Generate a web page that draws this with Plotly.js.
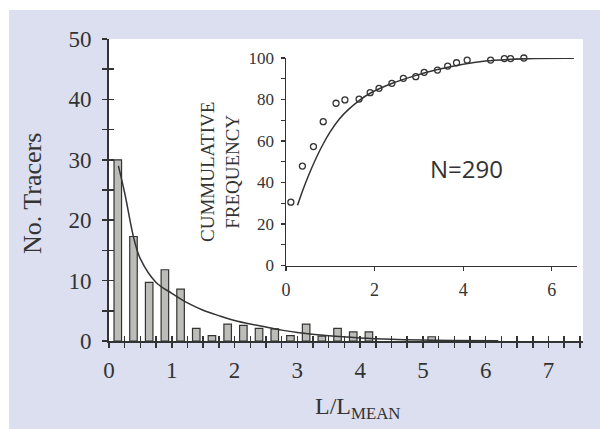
<!DOCTYPE html>
<html>
<head>
<meta charset="utf-8">
<script src="https://cdn.plot.ly/plotly-3.0.1.min.js"></script>
<style>
  html, body { margin: 0; padding: 0; background: #ffffff; }
  #chart { width: 600px; height: 429px; }
</style>
</head>
<body>
<div id="chart"></div>
<script>
// ---- Main histogram (No. Tracers vs L/Lmean) ----
const barX = [0.14, 0.39, 0.64, 0.89, 1.14, 1.39, 1.64, 1.89, 2.14, 2.39, 2.64, 2.89, 3.14, 3.39, 3.64, 3.89, 4.14, 5.14];
const barY = [30, 17.3, 9.7, 11.8, 8.6, 2.1, 0.9, 2.8, 2.6, 2.1, 2.0, 0.9, 2.8, 0.8, 2.1, 1.5, 1.5, 0.7];

// fitted decay curve over histogram
const fitX = [0.15, 0.25, 0.4, 0.5, 0.75, 1.0, 1.25, 1.5, 1.75, 2.0, 2.25, 2.5, 2.75, 3.0, 3.5, 4.0, 4.5, 5.0, 5.5, 6.2];
const fitY = [29, 24.5, 16.8, 13.6, 9.7, 7.9, 6.3, 5.1, 4.2, 3.4, 2.8, 2.3, 1.8, 1.4, 0.85, 0.5, 0.28, 0.15, 0.08, 0.03];

// ---- Inset: cumulative frequency ----
const cumX = [0.11, 0.37, 0.62, 0.84, 1.13, 1.33, 1.65, 1.90, 2.10, 2.39, 2.65, 2.93, 3.12, 3.42, 3.65, 3.85, 4.09, 4.62, 4.93, 5.07, 5.37];
const cumY = [30.5, 47.9, 57.3, 69.3, 78.2, 79.8, 80.2, 83.3, 85.4, 87.8, 90.2, 91.0, 93.1, 94.2, 96.1, 97.7, 99.0, 99.0, 99.7, 99.7, 100];

const cumFitX = [0.26, 0.4, 0.58, 0.8, 1.0, 1.2, 1.4, 1.65, 1.9, 2.4, 2.9, 3.4, 4.0, 4.5, 5.0, 5.6, 6.5];
const cumFitY = [29, 37.5, 47, 57, 64.5, 70.5, 75, 79.5, 83, 87.8, 91.4, 94.3, 97, 98.5, 99.3, 99.8, 99.9];

// ---- tick labels ----
const mainXTicks = [0, 1, 2, 3, 4, 5, 6, 7];
const mainYTicks = [0, 10, 20, 30, 40, 50];
const insetXTicks = [0, 2, 4, 6];
const insetYTicks = [0, 20, 40, 60, 80, 100];

// ---- texts ----
const yTitle = 'No. Tracers';
const xTitle = 'L/L<sub>MEAN</sub>';
const insetTitle = 'CUMMULATIVE<br>FREQUENCY';
const nLabel = 'N=290';

const ink = '#333333';
const serif = '"Liberation Serif"';

const traces = [
  {
    type: 'bar', x: barX, y: barY, width: 0.12,
    marker: { color: '#bcbcb9', line: { color: ink, width: 1.2 } },
    xaxis: 'x', yaxis: 'y', hoverinfo: 'skip', showlegend: false
  },
  {
    type: 'scatter', mode: 'lines', x: fitX, y: fitY,
    line: { color: ink, width: 1.5, shape: 'spline' },
    xaxis: 'x', yaxis: 'y', showlegend: false
  },
  // invisible trace so the overlay axes (inner halves of the crossing ticks) are drawn
  {
    type: 'scatter', mode: 'markers', x: [1], y: [60],
    marker: { opacity: 0 },
    xaxis: 'x3', yaxis: 'y3', showlegend: false, hoverinfo: 'skip'
  },
  {
    type: 'scatter', mode: 'lines', x: cumFitX, y: cumFitY,
    line: { color: ink, width: 1.5, shape: 'spline' },
    xaxis: 'x2', yaxis: 'y2', showlegend: false
  },
  {
    type: 'scatter', mode: 'markers', x: cumX, y: cumY,
    marker: { symbol: 'circle-open', size: 6, color: ink, line: { width: 1.3, color: ink } },
    xaxis: 'x2', yaxis: 'y2', showlegend: false, cliponaxis: false
  }
];

const L = 109, R = 17, T = 39, B = 88;
const W = 600, H = 429;
const pw = W - L - R, ph = H - T - B;
const px = v => (v - L) / pw;        // pixel -> paper x
const py = v => (H - B - v) / ph;    // pixel -> paper y

const lavender = '#dcdfef';

const layout = {
  width: W, height: H,
  margin: { l: L, r: R, t: T, b: B, pad: 0 },
  paper_bgcolor: lavender,
  plot_bgcolor: 'rgba(0,0,0,0)',
  showlegend: false,
  font: { family: serif, color: ink },
  bargap: 0,
  xaxis: {
    domain: [0, 1], range: [0, 7.55], anchor: 'y',
    showgrid: false, zeroline: false,
    showline: true, linecolor: ink, linewidth: 2,
    tickmode: 'array', tickvals: mainXTicks, ticktext: mainXTicks.map(String),
    ticks: 'outside', ticklen: 5, tickwidth: 1.5, tickcolor: ink,
    minor: { dtick: 0.25, ticks: 'outside', ticklen: 5, tickwidth: 1.5, tickcolor: ink, showgrid: false },
    tickfont: { family: serif, size: 23, color: ink },
    ticklabelstandoff: 2, fixedrange: true
  },
  yaxis: {
    domain: [0, 1], range: [0, 50], anchor: 'x',
    showgrid: false, zeroline: false,
    showline: true, linecolor: ink, linewidth: 2,
    tickmode: 'array', tickvals: mainYTicks, ticktext: mainYTicks.map(String),
    ticks: 'outside', ticklen: 5, tickwidth: 1.5, tickcolor: ink,
    minor: { dtick: 5, ticks: 'outside', ticklen: 5, tickwidth: 1.5, tickcolor: ink, showgrid: false },
    tickfont: { family: serif, size: 23, color: ink },
    ticklabelstandoff: 6, fixedrange: true
  },
  xaxis3: {
    overlaying: 'x', anchor: 'y3', range: [0, 7.55],
    showgrid: false, zeroline: false, showline: false, showticklabels: false,
    tickmode: 'array', tickvals: mainXTicks,
    ticks: 'inside', ticklen: 5, tickwidth: 1.5, tickcolor: ink,
    minor: { dtick: 0.25, ticks: 'inside', ticklen: 5, tickwidth: 1.5, tickcolor: ink, showgrid: false },
    fixedrange: true
  },
  yaxis3: {
    overlaying: 'y', anchor: 'x3', range: [0, 50],
    showgrid: false, zeroline: false, showline: false, showticklabels: false,
    tickmode: 'array', tickvals: mainYTicks,
    ticks: 'inside', ticklen: 5, tickwidth: 1.5, tickcolor: ink,
    minor: { dtick: 5, ticks: 'inside', ticklen: 5, tickwidth: 1.5, tickcolor: ink, showgrid: false },
    fixedrange: true
  },
  xaxis2: {
    domain: [px(286), px(577)], range: [0, 6.57], anchor: 'y2',
    showgrid: false, zeroline: false,
    showline: true, linecolor: ink, linewidth: 1.5,
    tickmode: 'array', tickvals: insetXTicks, ticktext: insetXTicks.map(String),
    ticks: 'outside', ticklen: 4, tickwidth: 1.3, tickcolor: ink,
    tickfont: { family: serif, size: 18, color: ink },
    ticklabelstandoff: 3, fixedrange: true
  },
  yaxis2: {
    domain: [py(265.5), py(58)], range: [0, 100], anchor: 'x2',
    showgrid: false, zeroline: false,
    showline: true, linecolor: ink, linewidth: 1.5,
    tickmode: 'array', tickvals: insetYTicks, ticktext: insetYTicks.map(String),
    ticks: 'outside', ticklen: 4, tickwidth: 1.3, tickcolor: ink,
    minor: { dtick: 10, ticks: 'outside', ticklen: 4, tickwidth: 1.3, tickcolor: ink, showgrid: false },
    tickfont: { family: serif, size: 17, color: ink },
    ticklabelstandoff: 3, fixedrange: true
  },
  shapes: [
    // white plotting area
    { type: 'rect', xref: 'paper', yref: 'paper', x0: 0, x1: 1, y0: 0, y1: 1,
      fillcolor: '#ffffff', line: { width: 0 }, layer: 'below' },
    // white page strips at the top and left of the lavender panel
    { type: 'rect', xref: 'paper', yref: 'paper', x0: px(0), x1: px(600), y0: py(10), y1: py(0),
      fillcolor: '#ffffff', line: { width: 0 }, layer: 'below' },
    { type: 'rect', xref: 'paper', yref: 'paper', x0: px(0), x1: px(9), y0: py(429), y1: py(0),
      fillcolor: '#ffffff', line: { width: 0 }, layer: 'below' }
  ],
  annotations: [
    { text: yTitle, xref: 'paper', yref: 'paper', x: px(32), y: py(194),
      xanchor: 'center', yanchor: 'middle', textangle: -90, showarrow: false,
      font: { family: serif, size: 26, color: ink } },
    { text: xTitle, xref: 'paper', yref: 'paper', x: px(357.5), y: py(408),
      xanchor: 'center', yanchor: 'middle', showarrow: false,
      font: { family: serif, size: 24, color: ink } },
    { text: insetTitle, xref: 'paper', yref: 'paper', x: px(220), y: py(172),
      xanchor: 'center', yanchor: 'middle', textangle: -90, showarrow: false,
      font: { family: serif, size: 19, color: ink } },
    { text: nLabel, xref: 'paper', yref: 'paper', x: px(466.5), y: py(168.5),
      xanchor: 'center', yanchor: 'middle', showarrow: false,
      font: { family: '"Open Sans"', size: 24, color: ink } }
  ]
};

Plotly.newPlot('chart', traces, layout, { staticPlot: true, displayModeBar: false });
</script>
</body>
</html>
